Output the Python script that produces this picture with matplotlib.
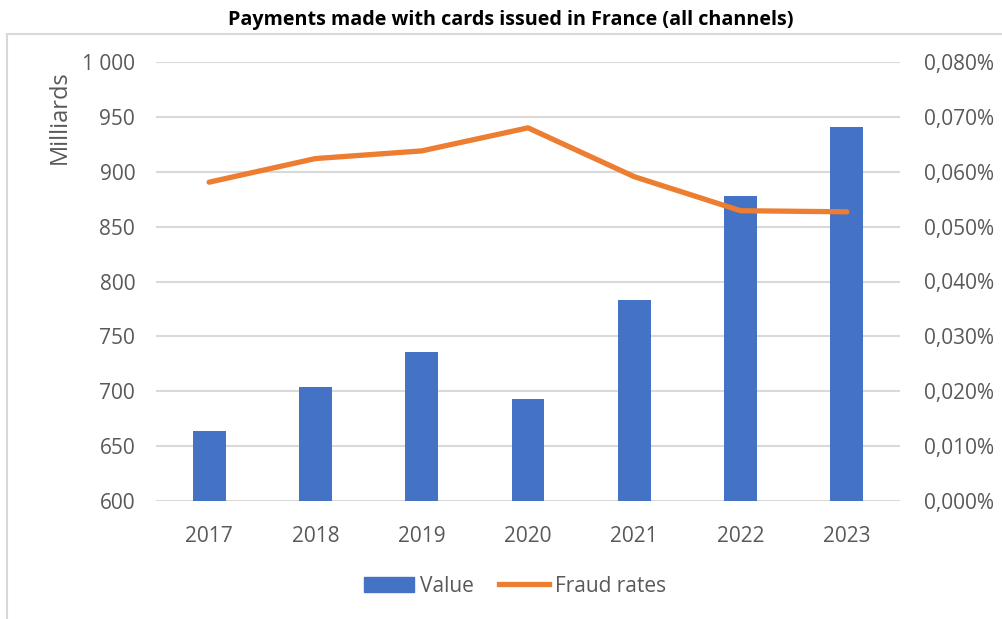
import matplotlib.pyplot as plt
from matplotlib.patches import Rectangle
from matplotlib.lines import Line2D
from matplotlib.patches import Patch

years = ["2017", "2018", "2019", "2020", "2021", "2022", "2023"]
value = [664, 704, 736, 693, 783, 878, 941]
fraud_rates = [0.0581, 0.0624, 0.0638, 0.0680, 0.0591, 0.0529, 0.0527]
left_ticks = [600, 650, 700, 750, 800, 850, 900, 950, 1000]
right_ticks = [0.0, 0.01, 0.02, 0.03, 0.04, 0.05, 0.06, 0.07, 0.08]

plt.rcParams['font.family'] = ['Open Sans', 'DejaVu Sans']
txt = '#595959'
fs = 15

fig = plt.figure(figsize=(10.02, 6.19), dpi=100)
fig.patches.append(Rectangle((7 / 1002, -0.1), 1.2, 1 - 34 / 619 + 0.1,
                             transform=fig.transFigure, fill=False,
                             edgecolor='#D9D9D9', linewidth=1.5))

ax = fig.add_axes([156 / 1002, 1 - 501 / 619, 744 / 1002, 439 / 619])
x = range(len(years))
ax.bar(x, [v - 600 for v in value], bottom=600, width=0.31, color='#4472C4', zorder=2)
ax.set_ylim(600, 1000)
ax.set_xlim(-0.5, len(years) - 0.5)
ax.set_yticks(left_ticks)
ax.set_yticklabels(["1 000" if t == 1000 else str(t) for t in left_ticks])
ax.set_xticks(list(x))
ax.set_xticklabels(years)
ax.grid(axis='y', color='#D9D9D9', linewidth=1.5, zorder=0)
for s in ax.spines.values():
    s.set_visible(False)
ax.tick_params(length=0, labelsize=fs, colors=txt)
ax.tick_params(axis='x', pad=18)
ax.tick_params(axis='y', pad=15)

ax2 = ax.twinx()
ax2.plot(list(x), fraud_rates, color='#ED7D31', linewidth=3.8, solid_capstyle='round', zorder=3)
ax2.set_ylim(0, 0.08)
ax2.set_yticks(right_ticks)
ax2.set_yticklabels([("%.3f%%" % t).replace('.', ',') for t in right_ticks])
for s in ax2.spines.values():
    s.set_visible(False)
ax2.tick_params(length=0, labelsize=fs, colors=txt, pad=17)

fig.text(60 / 1002, 1 - 117 / 619, "Milliards", rotation=90, ha='center', va='center',
         fontsize=17, color=txt)
fig.text(511 / 1002, 1 - 20 / 619, "Payments made with cards issued in France (all channels)",
         ha='center', va='center', fontsize=14.2, fontweight='bold', color='black')

handles = [Patch(color='#4472C4'), Line2D([0], [0], color='#ED7D31', linewidth=3.8)]
fig.legend(handles, ["Value", "Fraud rates"], loc='center', bbox_to_anchor=(515 / 1002, 1 - 586 / 619),
           ncol=2, frameon=False, fontsize=fs, labelcolor=txt, handlelength=2.4,
           handleheight=0.75, handletextpad=0.3, columnspacing=1.2)

fig.savefig("out.png", dpi=100)
